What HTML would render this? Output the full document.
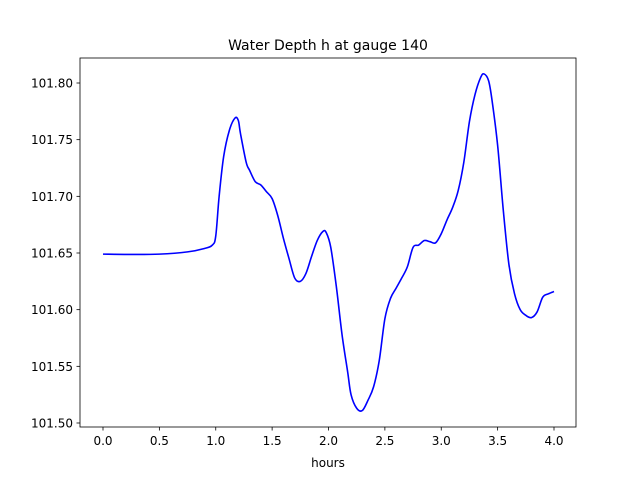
<!DOCTYPE html>
<html><head><meta charset="utf-8"><style>body{margin:0;background:#fff}svg{display:block;font-family:"DejaVu Sans","Liberation Sans",sans-serif}</style></head>
<body>
<svg id="chart" width="640" height="480" xmlns="http://www.w3.org/2000/svg">
<rect width="640" height="480" fill="#fff"/>
<text x="328" y="50" font-size="14" text-anchor="middle">Water Depth h at gauge 140</text>
<g id="axes"></g>
<path id="line" fill="none" stroke="#0000ff" stroke-width="1.6" stroke-linejoin="round"/>
<rect x="80" y="58" width="496" height="369" fill="none" stroke="#000" stroke-width="0.8"/>
<text x="328" y="467" font-size="12" text-anchor="middle">hours</text>
</svg>
<script>
const hours=[0,0.25,0.5,0.75,0.9,0.97,1.0,1.03,1.07,1.12,1.17,1.2,1.22,1.27,1.3,1.35,1.4,1.45,1.5,1.55,1.6,1.65,1.7,1.75,1.8,1.85,1.9,1.95,1.98,2.02,2.07,2.12,2.17,2.2,2.25,2.3,2.35,2.4,2.45,2.5,2.55,2.6,2.65,2.7,2.75,2.8,2.85,2.9,2.95,3.0,3.05,3.1,3.15,3.2,3.25,3.3,3.35,3.38,3.42,3.45,3.5,3.55,3.6,3.65,3.7,3.75,3.8,3.85,3.9,3.95,4.0];
const depth=[101.649,101.6487,101.649,101.651,101.654,101.657,101.665,101.70,101.735,101.758,101.769,101.767,101.755,101.730,101.723,101.713,101.710,101.704,101.698,101.683,101.663,101.645,101.628,101.625,101.632,101.647,101.661,101.669,101.668,101.655,101.620,101.578,101.545,101.525,101.513,101.511,101.520,101.532,101.555,101.592,101.610,101.619,101.628,101.638,101.655,101.657,101.661,101.660,101.659,101.667,101.679,101.690,101.705,101.730,101.766,101.790,101.805,101.808,101.802,101.785,101.745,101.688,101.640,101.614,101.600,101.595,101.593,101.598,101.611,101.614,101.616];
const xTicks=[0,0.5,1,1.5,2,2.5,3,3.5,4];
const xTickLabels=["0.0","0.5","1.0","1.5","2.0","2.5","3.0","3.5","4.0"];
const yTicks=[101.50,101.55,101.60,101.65,101.70,101.75,101.80];
const yTickLabels=["101.50","101.55","101.60","101.65","101.70","101.75","101.80"];
const X=v=>103+v*112.75;
const Y=v=>253-(v-101.65)*1133.3;
const NS="http://www.w3.org/2000/svg";
const ax=document.getElementById('axes');
function mk(t,a){const e=document.createElementNS(NS,t);for(const k in a)e.setAttribute(k,a[k]);ax.appendChild(e);return e;}
xTicks.forEach((t,i)=>{
 const l=mk('line',{x1:X(t),x2:X(t),y1:427,y2:430.5,stroke:'#000','stroke-width':0.8});
 
 
 const tx=mk('text',{x:X(t),y:445,'font-size':12,'text-anchor':'middle'});
 tx.textContent=xTickLabels[i];
 
 
});
yTicks.forEach((t,i)=>{
 const l=mk('line',{x1:76.5,x2:80,y1:Y(t),y2:Y(t),stroke:'#000','stroke-width':0.8});
 
 
 const tx=mk('text',{x:73,y:Y(t)+4.5,'font-size':12,'text-anchor':'end'});
 tx.textContent=yTickLabels[i];
 
 
});
const pts=hours.map((h,i)=>[X(h),Y(depth[i])]);
let d='M'+pts[0][0]+','+pts[0][1];
for(let i=0;i<pts.length-1;i++){
 const p0=pts[Math.max(0,i-1)],p1=pts[i],p2=pts[i+1],p3=pts[Math.min(pts.length-1,i+2)];
 const c1=[p1[0]+(p2[0]-p0[0])/6,p1[1]+(p2[1]-p0[1])/6],c2=[p2[0]-(p3[0]-p1[0])/6,p2[1]-(p3[1]-p1[1])/6];
 d+=' C'+c1+' '+c2+' '+p2;
}
document.getElementById('line').setAttribute('d',d);
</script>
</body></html>
